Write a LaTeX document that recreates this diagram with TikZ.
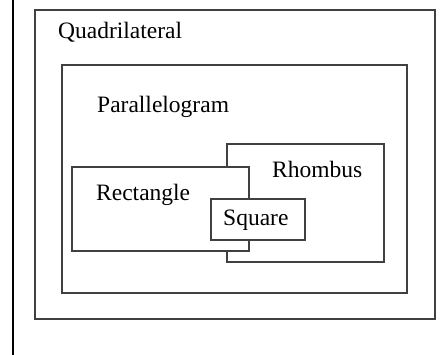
\documentclass[tikz,border=0pt]{standalone}
\usepackage{fontspec}
\setmainfont{Liberation Serif}
\begin{document}
\begin{tikzpicture}[x=1pt,y=-1pt,
  setbox/.style={draw=black!75, line width=1.1pt, fill=white},
  setlabel/.style={anchor=base west, inner sep=0pt, font=\fontsize{23.5}{28}\selectfont, text=black}]
\useasboundingbox (0,0) rectangle (448,355);
\draw[line width=2pt, black] (12.5,0) -- (12.5,355);
\draw[setbox] (35,10) rectangle (435,319);
\draw[setbox] (62,65) rectangle (407,293);
\draw[setbox] (227,144) rectangle (384,262);
\draw[setbox] (72,167) rectangle (249,251);
\draw[setbox] (211,199) rectangle (305,240);
\node[setlabel] (quad) at (58,39) {Quadrilateral};
\node[setlabel] (para) at (97,113) {Parallelogram};
\node[setlabel] (rhom) at (272,178) {Rhombus};
\node[setlabel] (rect) at (96,201) {Rectangle};
\node[setlabel] (squa) at (223,226) {Square};
\end{tikzpicture}
\end{document}
